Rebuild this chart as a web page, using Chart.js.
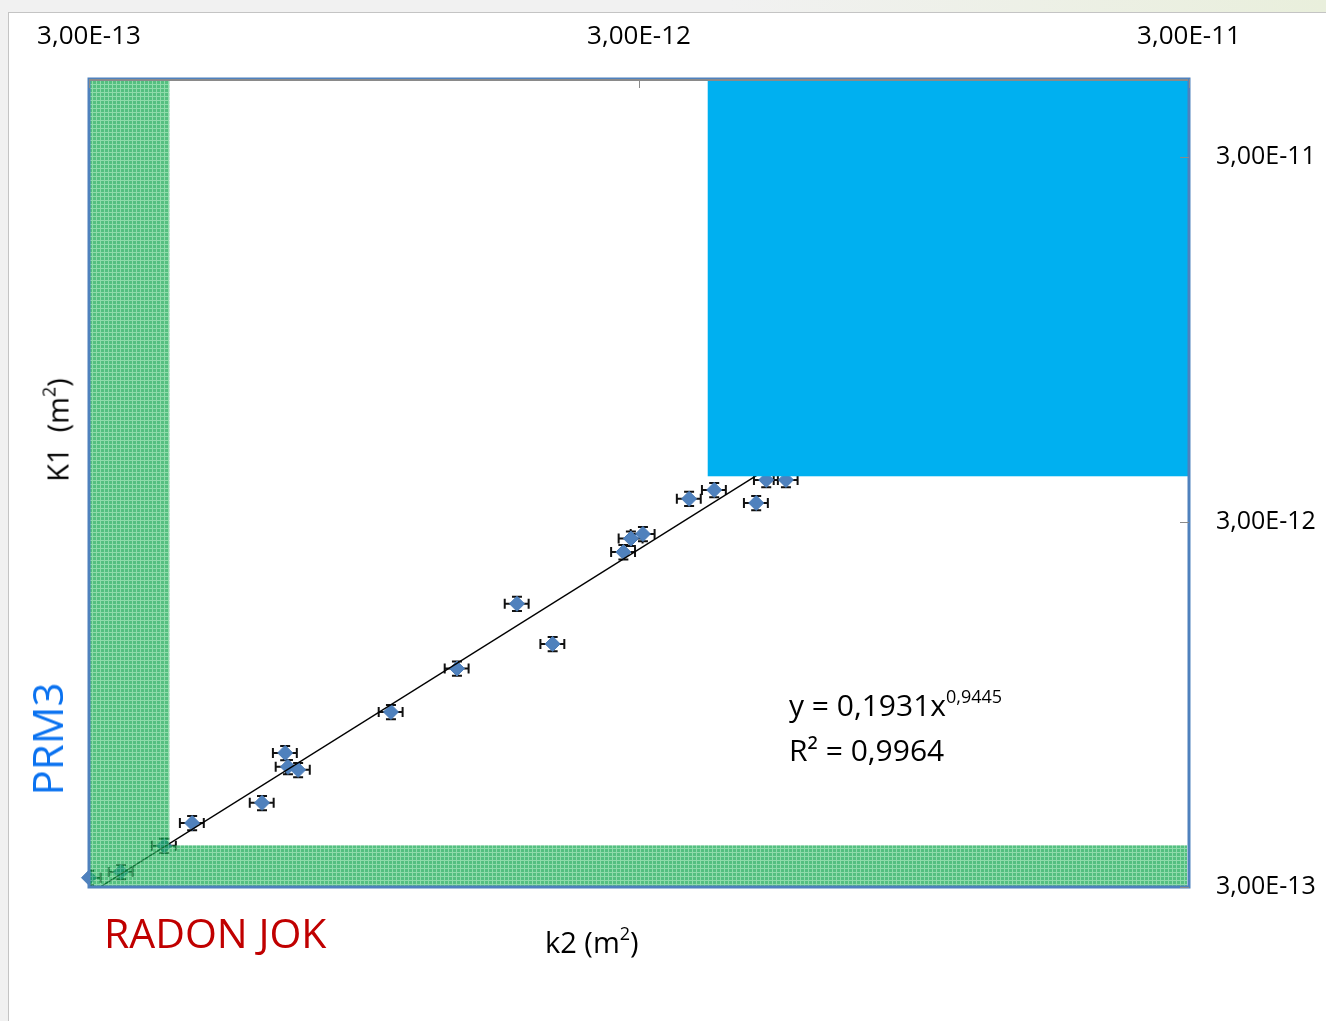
<!DOCTYPE html>
<html>
<head>
<meta charset="utf-8">
<title>K1 vs k2</title>
<script src="https://cdn.jsdelivr.net/npm/chart.js@4/dist/chart.umd.min.js"></script>
<style>
  html, body { margin: 0; padding: 0; }
  body { width: 1326px; height: 1021px; position: relative; overflow: hidden;
         background: linear-gradient(90deg, #f1f1f1 0%, #f1f1f1 55%, #e9efdc 100%);
         font-family: "Open Sans", "DejaVu Sans", sans-serif; }
  #panel { position: absolute; left: 8px; top: 12px; right: 0; bottom: 0;
           background: #fff; border-left: 1px solid #c4c4c4; border-top: 1px solid #c4c4c4; }
  #chart { position: absolute; left: 0; top: 0; }
  .txt { position: absolute; white-space: pre; line-height: 1; color: #000; }
  .rot { transform: translate(-50%, -50%) rotate(-90deg); }
  .mid { transform: translateY(-50%); }
  sup { font-size: 62%; vertical-align: 0; position: relative; top: -0.7em; }
</style>
</head>
<body>
<div id="panel"></div>
<canvas id="chart" width="1326" height="1021"></canvas>

<div class="txt rot" style="left:57px; top:430px; font-size:29px;">K1  (m<sup>2</sup>)</div>
<div class="txt rot" style="left:47px; top:739px; font-size:42px; color:#0a72f0;">PRM3</div>
<div class="txt mid" style="left:104px; top:932px; font-size:41px; color:#c00000;">RADON JOK</div>
<div class="txt mid" style="left:545px; top:941px; font-size:29px;">k2 (m<sup>2</sup>)</div>
<div class="txt mid" style="left:789px; top:705px; font-size:30px;">y = 0,1931x<sup style="font-size:60%;top:-0.75em;">0,9445</sup></div>
<div class="txt mid" style="left:789px; top:750px; font-size:30px;">R² = 0,9964</div>

<script>
// Permeability pairs: k2 (horizontal) and K1 (vertical), in m²
const k2Values = [3.00e-13, 3.43e-13, 4.11e-13, 4.62e-13, 6.19e-13, 6.82e-13, 6.90e-13,
                  7.20e-13, 1.062e-12, 1.40e-12, 1.80e-12, 2.09e-12, 2.81e-12, 2.90e-12,
                  3.05e-12, 3.70e-12, 4.11e-12, 4.90e-12, 5.11e-12, 5.55e-12];
const k1Values = [3.18e-13, 3.30e-13, 3.89e-13, 4.49e-13, 5.10e-13, 6.99e-13, 6.40e-13,
                  6.28e-13, 9.05e-13, 1.19e-12, 1.79e-12, 1.39e-12, 2.48e-12, 2.70e-12,
                  2.78e-12, 3.47e-12, 3.67e-12, 3.38e-12, 3.91e-12, 3.91e-12];
// relative measurement uncertainty (error bars)
const k2RelErr = 0.05;
const k1RelErr = 0.045;

// power-law fit y = a * x^b
const fitA = 0.1931;
const fitB = 0.9445;
const fitRangeK2 = [3.00e-13, 3.00e-11];

// axes
const xTickValues = [3e-13, 3e-12, 3e-11];
const xTickLabels = ['3,00E-13', '3,00E-12', '3,00E-11'];
const yTickValues = [3e-13, 3e-12, 3e-11];
const yTickLabels = ['3,00E-13', '3,00E-12', '3,00E-11'];
const xMin = 3e-13, xMax = 3e-11;
const yMin = 3e-13, yMax = 4.9e-11;

// shaded zones (k2 range, K1 range) in m²
const radonZoneK2 = [3e-13, 4.2e-13];   // vertical strip
const radonZoneK1 = [3e-13, 3.9e-13];   // horizontal strip
const prmZoneK2 = [4.0e-12, 3e-11];
const prmZoneK1 = [4.0e-12, 4.9e-11];

const FONT = '"Open Sans", "DejaVu Sans", sans-serif';

const points = k2Values.map((x, i) => ({ x, y: k1Values[i] }));
const trend = fitRangeK2.map(x => ({ x, y: fitA * Math.pow(x, fitB) }));

function greenPattern(ctx) {
  const c = document.createElement('canvas');
  c.width = 4; c.height = 4;
  const g = c.getContext('2d');
  g.fillStyle = 'rgb(12,164,74)';
  g.fillRect(0, 0, 4, 4);
  g.fillStyle = 'rgb(96,204,136)';
  g.fillRect(0, 0, 4, 1);
  g.fillRect(0, 0, 1, 4);
  return ctx.createPattern(c, 'repeat');
}

const overlay = {
  id: 'overlay',
  beforeDatasetDraw(chart, args) {
    if (args.index !== 1) return;
    const { ctx, chartArea: a } = chart;
    const xs = chart.scales.x, ys = chart.scales.y;
    ctx.save();
    ctx.beginPath();
    ctx.rect(a.left, a.top, a.right - a.left, a.bottom - a.top);
    ctx.clip();
    ctx.strokeStyle = '#111';
    ctx.lineWidth = 2;
    const cap = 5;
    points.forEach(p => {
      const px = xs.getPixelForValue(p.x), py = ys.getPixelForValue(p.y);
      const x0 = xs.getPixelForValue(p.x * (1 - k2RelErr)), x1 = xs.getPixelForValue(p.x * (1 + k2RelErr));
      const y0 = ys.getPixelForValue(p.y * (1 - k1RelErr)), y1 = ys.getPixelForValue(p.y * (1 + k1RelErr));
      ctx.beginPath();
      ctx.moveTo(x0, py); ctx.lineTo(x1, py);
      ctx.moveTo(x0, py - cap); ctx.lineTo(x0, py + cap);
      ctx.moveTo(x1, py - cap); ctx.lineTo(x1, py + cap);
      ctx.moveTo(px, y0); ctx.lineTo(px, y1);
      ctx.moveTo(px - cap, y0); ctx.lineTo(px + cap, y0);
      ctx.moveTo(px - cap, y1); ctx.lineTo(px + cap, y1);
      ctx.stroke();
    });
    ctx.restore();
  },
  afterDatasetsDraw(chart) {
    const { ctx, chartArea: a } = chart;
    const xs = chart.scales.x, ys = chart.scales.y;
    const X = v => xs.getPixelForValue(v), Y = v => ys.getPixelForValue(v);
    ctx.save();
    // radon zones
    ctx.globalAlpha = 0.7;
    ctx.fillStyle = greenPattern(ctx);
    ctx.fillRect(X(radonZoneK2[0]), a.top + 2, X(radonZoneK2[1]) - X(radonZoneK2[0]), a.bottom - a.top - 2);
    ctx.fillRect(X(radonZoneK2[1]), Y(radonZoneK1[1]), a.right - X(radonZoneK2[1]) - 2, Y(radonZoneK1[0]) - Y(radonZoneK1[1]));
    ctx.globalAlpha = 1;
    // PRM zone
    ctx.fillStyle = '#00b0f0';
    ctx.fillRect(X(prmZoneK2[0]), a.top + 2, X(prmZoneK2[1]) - X(prmZoneK2[0]), Y(prmZoneK1[0]) - a.top - 2);
    // plot frame
    ctx.strokeStyle = '#4f81bd';
    ctx.lineWidth = 3;
    ctx.strokeRect(a.left, a.top, a.right - a.left, a.bottom - a.top);
    ctx.strokeStyle = '#8a8a8a';
    ctx.lineWidth = 2;
    ctx.beginPath();
    ctx.moveTo(a.left + 1, a.top + 1); ctx.lineTo(a.right - 1, a.top + 1);
    ctx.stroke();
    // inner tick marks
    ctx.strokeStyle = '#8a8a8a';
    ctx.lineWidth = 1;
    xTickValues.forEach(v => {
      const px = Math.round(X(v)) + 0.5;
      ctx.beginPath(); ctx.moveTo(px, a.top); ctx.lineTo(px, a.top + 9); ctx.stroke();
    });
    yTickValues.forEach(v => {
      const py = Math.round(Y(v)) + 0.5;
      ctx.beginPath(); ctx.moveTo(a.right - 9, py); ctx.lineTo(a.right, py); ctx.stroke();
    });
    ctx.restore();
  }
};

new Chart(document.getElementById('chart'), {
  type: 'scatter',
  data: {
    datasets: [
      { type: 'line', label: 'Puissance', data: trend, borderColor: '#000', borderWidth: 1.4,
        pointRadius: 0, fill: false, order: 0 },
      { label: 'PRM3', data: points, pointStyle: 'rectRot', pointRadius: 7.5, pointHoverRadius: 7.5,
        backgroundColor: '#4f81bd', borderColor: '#4a7cb8', borderWidth: 1, order: 1, clip: false }
    ]
  },
  options: {
    responsive: false,
    animation: false,
    devicePixelRatio: 1,
    layout: { padding: { left: 89, top: 0, right: 0, bottom: 134 } },
    plugins: { legend: { display: false }, tooltip: { enabled: false } },
    scales: {
      x: {
        type: 'logarithmic', position: 'top', min: xMin, max: xMax,
        afterBuildTicks: s => { s.ticks = xTickValues.map(v => ({ value: v })); },
        afterFit: s => { s.height = 79; },
        grid: { display: false, drawTicks: false },
        border: { display: false },
        ticks: { autoSkip: false, maxRotation: 0, padding: 27, color: '#000',
                 font: { family: FONT, size: 26 },
                 callback: (v, i) => xTickLabels[i] }
      },
      y: {
        type: 'logarithmic', position: 'right', min: yMin, max: yMax,
        afterBuildTicks: s => { s.ticks = yTickValues.map(v => ({ value: v })); },
        afterFit: s => { s.width = 137; },
        grid: { display: false, drawTicks: false },
        border: { display: false },
        ticks: { autoSkip: false, padding: 27, color: '#000',
                 font: { family: FONT, size: 25 },
                 callback: (v, i) => yTickLabels[i] }
      }
    }
  },
  plugins: [overlay]
});
</script>
</body>
</html>
